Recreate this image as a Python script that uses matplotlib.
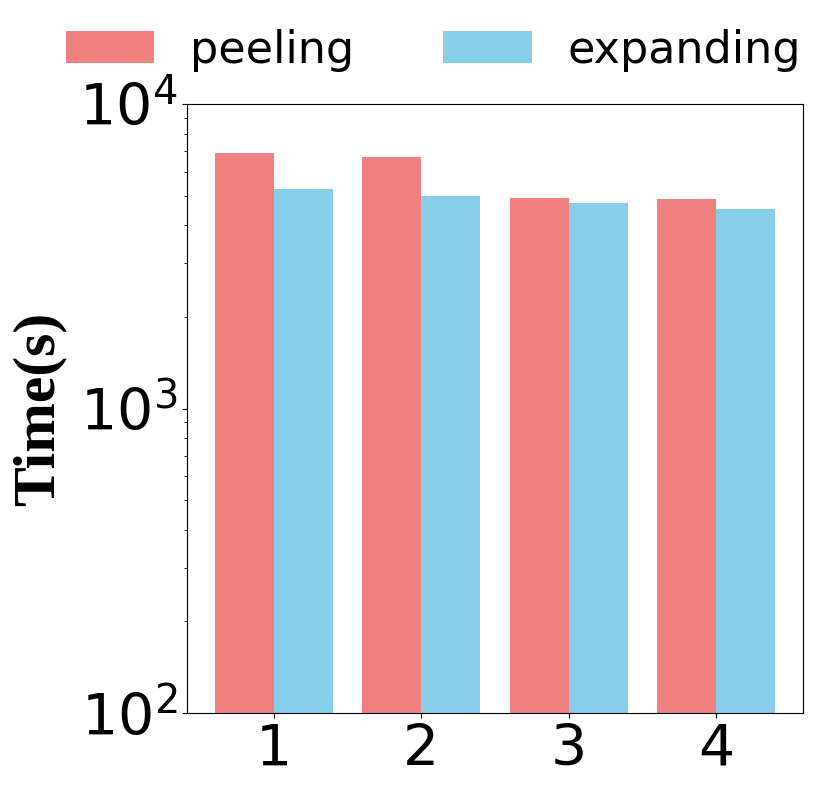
import numpy as np
import matplotlib
matplotlib.use("Agg")
import matplotlib.pyplot as plt

# data
groups = [1, 2, 3, 4]
peeling = [6900, 6690, 4920, 4860]
expanding = [5270, 4970, 4730, 4510]

fig = plt.figure(figsize=(8.3, 7.97), dpi=100)
ax = fig.add_axes([0.2253, 0.1054, 0.7422, 0.7641])

x = np.array(groups)
w = 0.4
ax.bar(x - w / 2, peeling, w, color='lightcoral', label='peeling')
ax.bar(x + w / 2, expanding, w, color='skyblue', label='expanding')

ax.set_yscale('log')
ax.set_ylim(100, 10000)
ax.set_xticks(groups)
ax.tick_params(axis='both', which='major', labelsize=41)
ax.set_ylabel('Time(s)', fontsize=43, fontweight='bold', family='Liberation Serif',
              labelpad=9)

fig.legend(loc='center', bbox_to_anchor=(0.522, 1 - 50 / 797), ncol=2,
           frameon=False, fontsize=32)

fig.savefig('out.png', dpi=100)
